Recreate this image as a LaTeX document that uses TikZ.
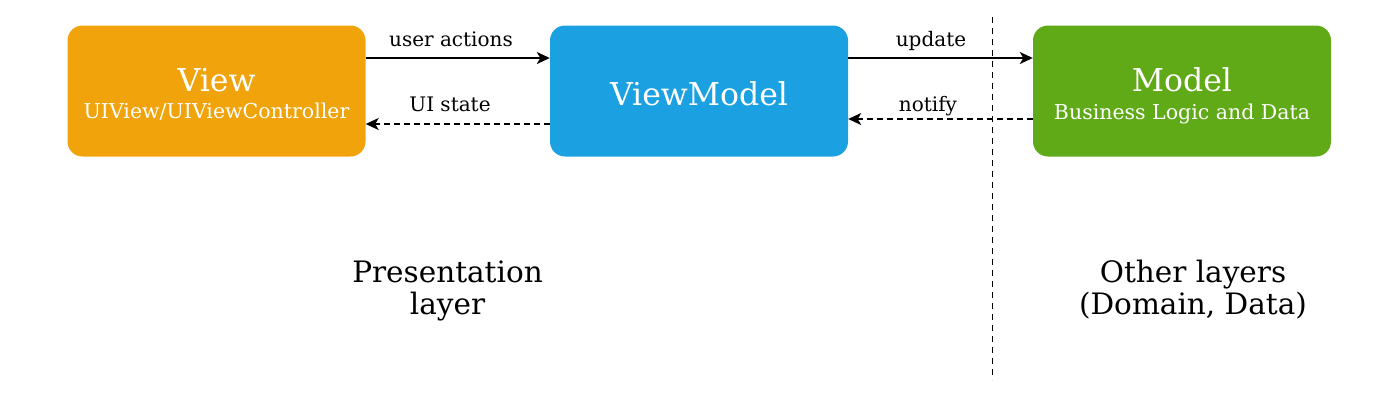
\documentclass[tikz,border=0pt]{standalone}
\usepackage{fontspec}
\setmainfont{DejaVu Serif}
\usetikzlibrary{arrows.meta}
\definecolor{vieworange}{HTML}{F0A30A}
\definecolor{vmblue}{HTML}{1BA1E2}
\definecolor{modelgreen}{HTML}{60A917}
\tikzset{
  box/.style={rounded corners=15pt, minimum width=298pt, minimum height=131pt, inner sep=0pt, draw=none},
  title/.style={text=white, anchor=base, inner sep=0pt, font=\fontsize{31.5}{34}\selectfont},
  subtitle/.style={text=white, anchor=base, inner sep=0pt, font=\fontsize{20.5}{24}\selectfont},
  lbl/.style={anchor=base, inner sep=0pt, font=\fontsize{20}{24}\selectfont},
  layer/.style={anchor=base, inner sep=0pt, font=\fontsize{29.5}{32}\selectfont},
  arr/.style={line width=1.8pt, -{Stealth[length=13pt, width=12pt, inset=3.5pt]}},
  darr/.style={arr, dash pattern=on 6pt off 4pt},
}
\begin{document}
\begin{tikzpicture}[x=1pt,y=-1pt]
\useasboundingbox (0,0) rectangle (1400,400);
\node[box, fill=vieworange] (view) at (216.5,91) {};
\node[box, fill=vmblue] (vm) at (699,91) {};
\node[box, fill=modelgreen] (model) at (1182,91) {};
\node[title] (viewt) at (216.5,91.5) {View};
\node[subtitle] (views) at (216.5,118) {UIView/UIViewController};
\node[title] (vmt) at (699,105) {ViewModel};
\node[title] (modelt) at (1182,91.5) {Model};
\node[subtitle] (models) at (1182,119) {Business Logic and Data};
\draw[arr] ([yshift=33pt]view.east) -- ([yshift=33pt]vm.west);
\draw[darr] ([yshift=-33pt]vm.west) -- ([yshift=-33pt]view.east);
\draw[arr] ([yshift=33pt]vm.east) -- ([yshift=33pt]model.west);
\draw[darr] ([yshift=-28pt]model.west) -- ([yshift=-28pt]vm.east);
\node[lbl] (ua) at (451,46.7) {user actions};
\node[lbl] (uis) at (450,111.7) {UI state};
\node[lbl] (upd) at (931,46.7) {update};
\node[lbl] (ntf) at (928,111.7) {notify};
\coordinate (divtop) at (992.5,17);
\coordinate (divbot) at (992.5,380);
\draw[line width=1.8pt, dash pattern=on 6pt off 5pt] (divtop) -- (divbot);
\node[layer] (pres1) at (447.5,282) {Presentation};
\node[layer] (pres2) at (447.5,314) {layer};
\node[layer] (oth1) at (1193,282) {Other layers};
\node[layer] (oth2) at (1193,314) {(Domain, Data)};
\end{tikzpicture}
\end{document}
